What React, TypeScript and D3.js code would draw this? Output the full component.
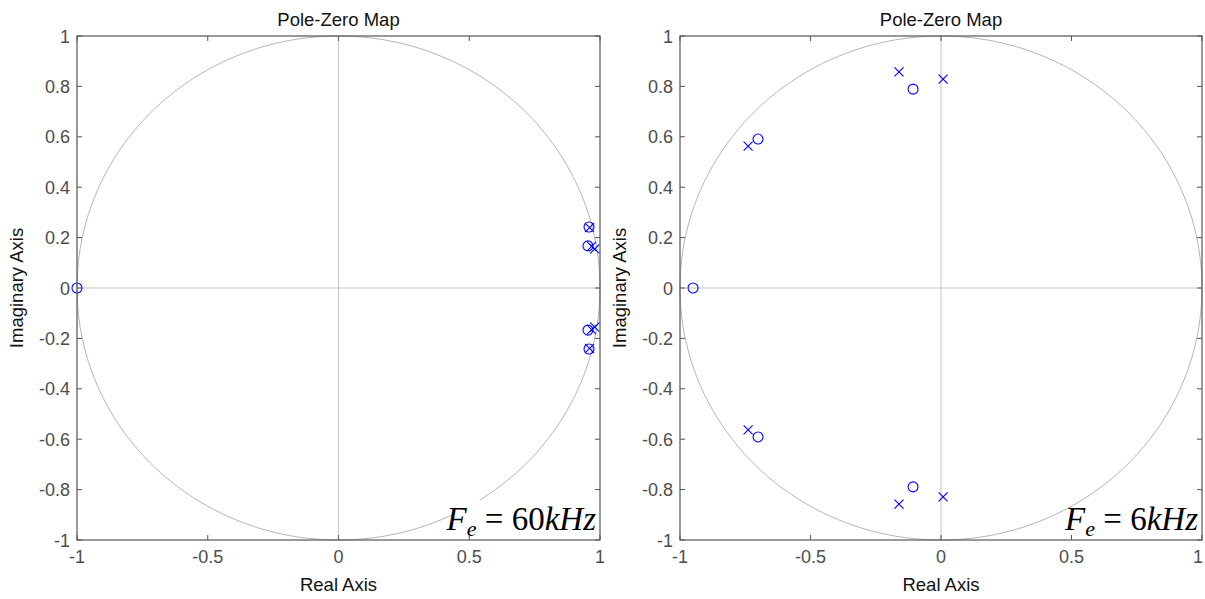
import React from "react";
import * as d3 from "d3";

const ticksX = [-1, -0.5, 0, 0.5, 1];
const ticksY = [1, 0.8, 0.6, 0.4, 0.2, 0, -0.2, -0.4, -0.6, -0.8, -1];

// Left panel (Fe = 60kHz)
const zerosLeftRe = [-1, 0.958, 0.954, 0.954, 0.958];
const zerosLeftIm = [0, 0.242, 0.167, -0.167, -0.242];
const polesLeftRe = [0.96, 0.968, 0.98, 0.968, 0.98, 0.96];
const polesLeftIm = [0.24, 0.165, 0.155, -0.165, -0.155, -0.24];

// Right panel (Fe = 6kHz)
const zerosRightRe = [-0.95, -0.701, -0.701, -0.107, -0.107];
const zerosRightIm = [0, 0.591, -0.591, 0.789, -0.789];
const polesRightRe = [-0.739, -0.739, -0.161, -0.161, 0.008, 0.008];
const polesRightIm = [0.563, -0.563, 0.858, -0.858, 0.829, -0.829];

const panels = [
  { x0: 77, x1: 600, zr: zerosLeftRe, zi: zerosLeftIm, pr: polesLeftRe, pi: polesLeftIm, label: "60" },
  { x0: 680, x1: 1202, zr: zerosRightRe, zi: zerosRightIm, pr: polesRightRe, pi: polesRightIm, label: "6" },
];

const Y0 = 36;
const Y1 = 540;
const font = "'Liberation Sans', Arial, sans-serif";
const serif = "'Liberation Serif', 'Times New Roman', serif";
const axisColor = "#555";
const textColor = "#4d4d4d";

function Panel({ p }: { p: (typeof panels)[number] }) {
  const x = d3.scaleLinear().domain([-1, 1]).range([p.x0, p.x1]);
  const y = d3.scaleLinear().domain([-1, 1]).range([Y1, Y0]);
  const angles = d3.range(0, 2 * Math.PI + 0.001, Math.PI / 180);
  const circ = d3
    .line<number>()
    .x((a) => x(Math.cos(a)))
    .y((a) => y(Math.sin(a)))(angles);
  const cx = (p.x0 + p.x1) / 2;
  const tl = 5;
  return (
    <g>
      <rect x={p.x0} y={Y0} width={p.x1 - p.x0} height={Y1 - Y0} fill="#fff" />
      <path d={circ ?? ""} fill="none" stroke="#b4b4b4" strokeWidth={1} />
      <line x1={x(0)} x2={x(0)} y1={Y0} y2={Y1} stroke="#c4c4c4" strokeWidth={1} />
      <line x1={p.x0} x2={p.x1} y1={y(0)} y2={y(0)} stroke="#c4c4c4" strokeWidth={1} />
      {p.zr.map((r, i) => (
        <circle key={"z" + i} cx={x(r)} cy={y(p.zi[i])} r={5} fill="none" stroke="#0000ff" strokeWidth={1.1} />
      ))}
      {p.pr.map((r, i) => {
        const px = x(r);
        const py = y(p.pi[i]);
        const s = 4.5;
        return (
          <g key={"p" + i} stroke="#0000ff" strokeWidth={1.1}>
            <line x1={px - s} y1={py - s} x2={px + s} y2={py + s} />
            <line x1={px - s} y1={py + s} x2={px + s} y2={py - s} />
          </g>
        );
      })}
      {/* annotation */}
      <rect x={p.x1 - (p.label === "60" ? 148 : 118)} y={500} width={p.label === "60" ? 146 : 116} height={38} fill="#fff" />
      <text x={p.x1 - 4} y={530} textAnchor="end" fontFamily={serif} fontSize={33} fill="#000">
        <tspan fontStyle="italic">F</tspan>
        <tspan fontStyle="italic" fontSize={22} dy={6}>e</tspan>
        <tspan dy={-6}> = {p.label}</tspan>
        <tspan fontStyle="italic">kHz</tspan>
      </text>
      {/* frame */}
      <rect x={p.x0} y={Y0} width={p.x1 - p.x0} height={Y1 - Y0} fill="none" stroke={axisColor} strokeWidth={1.2} />
      {ticksX.map((t) => (
        <g key={"tx" + t}>
          <line x1={x(t)} x2={x(t)} y1={Y1} y2={Y1 - tl} stroke={axisColor} />
          <line x1={x(t)} x2={x(t)} y1={Y0} y2={Y0 + tl} stroke={axisColor} />
          <text x={Math.min(x(t), 1198)} y={563} textAnchor="middle" fontFamily={font} fontSize={18} fill={textColor}>
            {t}
          </text>
        </g>
      ))}
      {ticksY.map((t) => (
        <g key={"ty" + t}>
          <line x1={p.x0} x2={p.x0 + tl} y1={y(t)} y2={y(t)} stroke={axisColor} />
          <line x1={p.x1} x2={p.x1 - tl} y1={y(t)} y2={y(t)} stroke={axisColor} />
          <text x={p.x0 - 7} y={y(t) + 6.5} textAnchor="end" fontFamily={font} fontSize={18} fill={textColor}>
            {t}
          </text>
        </g>
      ))}
      <text x={cx} y={26} textAnchor="middle" fontFamily={font} fontSize={18.5} fill="#111">
        Pole-Zero Map
      </text>
      <text x={cx} y={591} textAnchor="middle" fontFamily={font} fontSize={18.5} fill="#111">
        Real Axis
      </text>
      <text
        transform={`translate(${p.x0 - 54},${(Y0 + Y1) / 2}) rotate(-90)`}
        textAnchor="middle"
        fontFamily={font}
        fontSize={18.5}
        fill="#111"
      >
        Imaginary Axis
      </text>
    </g>
  );
}

export default function App() {
  return (
    <svg
      width={1205}
      height={599}
      style={{ position: "absolute", left: 0, top: 0, background: "#fff" }}
    >
      <rect width={1205} height={599} fill="#fff" />
      {panels.map((p, i) => (
        <Panel key={i} p={p} />
      ))}
    </svg>
  );
}
